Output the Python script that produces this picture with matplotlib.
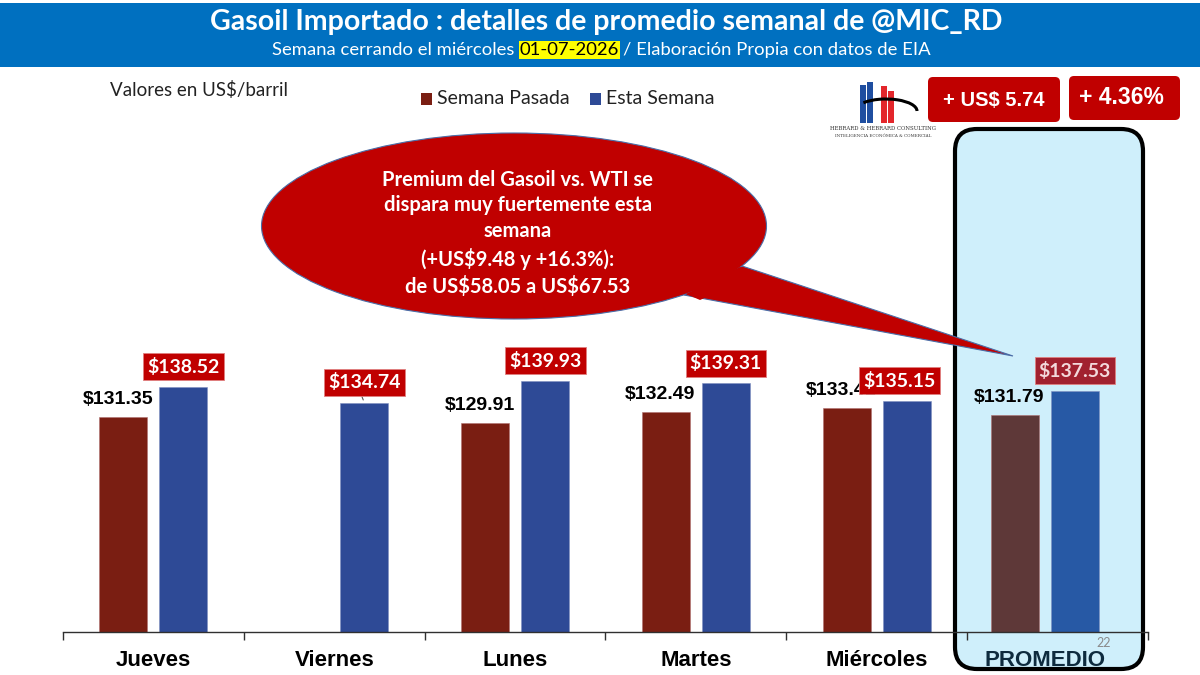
import numpy as np
import matplotlib
matplotlib.use("Agg")
import matplotlib.pyplot as plt
from matplotlib.patches import FancyBboxPatch, Ellipse, Polygon, Rectangle, Arc

# ---------------- data ----------------
categories = ["Jueves", "Viernes", "Lunes", "Martes", "Miércoles", "PROMEDIO"]
semana_pasada = [131.35, np.nan, 129.91, 132.49, 133.41, 131.79]
esta_semana = [138.52, 134.74, 139.93, 139.31, 135.15, 137.53]
label_pasada = ["$131.35", "", "$129.91", "$132.49", "$133.41", "$131.79"]
label_esta = ["$138.52", "$134.74", "$139.93", "$139.31", "$135.15", "$137.53"]
title = "Gasoil Importado : detalles de promedio semanal de @MIC_RD"
sub_a = "Semana cerrando el miércoles"
sub_date = "01-07-2026"
sub_b = "/ Elaboración Propia con datos de EIA"
callout = ["Premium del Gasoil vs. WTI se", "dispara muy fuertemente esta", "semana",
           "(+US$9.48 y +16.3%):", "de US$58.05 a US$67.53"]
delta_abs = "+ US$ 5.74"
delta_pct = "+ 4.36%"

CAL = ["Lato", "DejaVu Sans"]
ARI = ["Liberation Sans", "DejaVu Sans"]
NM = dict(parse_math=False)

fig = plt.figure(figsize=(12, 6.75), dpi=100)
W, H = 1200, 675

def overlay(z):
    a = fig.add_axes([0, 0, 1, 1], zorder=z)
    a.set_xlim(0, W); a.set_ylim(H, 0); a.axis("off")
    a.patch.set_alpha(0)
    return a

back = overlay(0)
# highlight box for PROMEDIO
back.add_patch(FancyBboxPatch((955, 129), 188, 540, boxstyle="round,pad=0,rounding_size=22",
                              fc="#CFEFFB", ec="black", lw=3))

# ---------------- main axes ----------------
ax = fig.add_axes([63 / W, (H - 632) / H, (1148 - 63) / W, (632 - 129) / H], zorder=1)
ax.patch.set_alpha(0)
n = len(categories)
x = np.arange(n).astype(float)
x[-1] -= 0.07  # PROMEDIO group sits slightly left inside its box
off, bw = 0.166, 0.265
red_cols = ["#7A1E12"] * 5 + ["#5E3838"]
blue_cols = ["#2E4A96"] * 5 + ["#2759A5"]
ax.bar(x - off, semana_pasada, bw, color=red_cols, edgecolor="#B07070", linewidth=0.4, zorder=2)
ax.bar(x + off, esta_semana, bw, color=blue_cols, edgecolor="#8090C0", linewidth=0.4, zorder=2)
ax.set_ylim(80, 200)
ax.set_xlim(-0.5, n - 0.5)
for s in ["top", "right", "left"]:
    ax.spines[s].set_visible(False)
ax.spines["bottom"].set_color("#303030")
ax.spines["bottom"].set_linewidth(1.0)
ax.set_yticks([])
ax.set_xticks(x)
ax.set_xticklabels(categories, fontfamily=ARI, fontweight="bold", fontsize=16)
ax.get_xticklabels()[-1].set_color("#0E2B3E")
ax.tick_params(axis="x", which="major", length=0, pad=13)
ax.set_xticks(np.arange(-0.5, n), minor=True)
ax.tick_params(axis="x", which="minor", length=6, color="#303030", width=1, direction="out")

for i in range(n):
    v = semana_pasada[i]
    if not np.isnan(v):
        ax.annotate(label_pasada[i], (x[i] - off, v), xytext=(-4, 12.5), textcoords="offset points",
                    ha="center", va="center", fontfamily=ARI, fontweight="bold", fontsize=14,
                    color="black", zorder=3, **NM)
for i in range(n):
    v = esta_semana[i]
    last = i == n - 1
    dx = -5 if i == 4 else 0
    fc = "#A1212F" if last else "#C00000"
    tc = "#F3D9DC" if last else "white"
    ax.annotate(label_esta[i], (x[i] + off, v), xytext=(dx, 14.5), textcoords="offset points",
                ha="center", va="center", fontfamily=CAL, fontweight="bold", fontsize=14,
                color=tc, zorder=5, **NM,
                bbox=dict(boxstyle="square,pad=0.22", fc=fc, ec="#E08080", lw=0.6))
# leader line for Viernes
ax.annotate("", (x[1] + off, esta_semana[1]), xytext=(x[1] + off - 0.02, esta_semana[1] + 2.2),
            arrowprops=dict(arrowstyle="-", color="#555555", lw=0.8), zorder=4)

# ---------------- front overlay ----------------
fr = overlay(2)
# header
fr.add_patch(Rectangle((0, 3), W, 64, fc="#0070C0", ec="none"))
fr.text(606, 22, title, ha="center", va="center", color="white", fontfamily=CAL,
        fontweight="bold", fontsize=20.5, **NM)
t1 = fr.text(272, 50, sub_a, ha="left", va="center", color="white", fontfamily=CAL, fontsize=13.3, **NM)
t2 = fr.annotate(sub_date, xy=(1, 0), xycoords=t1, xytext=(4, 0), textcoords="offset points",
                 ha="left", va="bottom", color="black", fontfamily=CAL, fontsize=13.3, **NM,
                 bbox=dict(boxstyle="square,pad=0.05", fc="#FFFF00", ec="none"))
fr.annotate(sub_b, xy=(1, 0), xycoords=t2, xytext=(3, 0), textcoords="offset points",
            ha="left", va="bottom", color="white", fontfamily=CAL, fontsize=13.3, **NM)

# units / legend
fr.text(110, 90, "Valores en US$/barril", ha="left", va="center", fontfamily=CAL, fontsize=13.5,
        color="#222222", **NM)
fr.add_patch(Rectangle((421, 93), 11, 12, fc="#7A1E12", ec="none"))
fr.text(437, 99, "Semana Pasada", ha="left", va="center", fontfamily=CAL, fontsize=14, color="#222222")
fr.add_patch(Rectangle((590, 93), 11, 12, fc="#2E4A96", ec="none"))
fr.text(606, 99, "Esta Semana", ha="left", va="center", fontfamily=CAL, fontsize=14, color="#222222")

# logo (simplified)
fr.add_patch(Rectangle((860, 85), 6, 38, fc="#1F4EA0", ec="none"))
fr.add_patch(Rectangle((867, 82), 6, 41, fc="#1F4EA0", ec="none"))
fr.add_patch(Rectangle((881, 86), 6, 37, fc="#E3262B", ec="none"))
fr.add_patch(Rectangle((888, 91), 6, 32, fc="#E3262B", ec="none"))
fr.add_patch(Arc((886, 111), 62, 24, theta1=200, theta2=360, lw=2.2, color="black"))
fr.text(883, 129, "HEBRARD & HEBRARD CONSULTING", ha="center", va="center", fontsize=3.9,
        fontfamily=["DejaVu Serif"], color="#333333")
fr.text(883, 136, "INTELIGENCIA ECONÓMICA & COMERCIAL", ha="center", va="center", fontsize=3.0,
        fontfamily=["DejaVu Serif"], color="#333333")

# delta boxes
fr.add_patch(FancyBboxPatch((928, 77), 132, 45, boxstyle="round,pad=0,rounding_size=5",
                            fc="#C00000", ec="none"))
fr.text(994, 100, delta_abs, ha="center", va="center", color="white", fontfamily=ARI,
        fontweight="bold", fontsize=14.5, **NM)
fr.add_patch(FancyBboxPatch((1069, 76), 111, 44, boxstyle="round,pad=0,rounding_size=5",
                            fc="#C00000", ec="none"))
fr.text(1121, 98, delta_pct, ha="center", va="center", color="white", fontfamily=ARI,
        fontweight="bold", fontsize=16.5, **NM)

# callout
fr.add_patch(Polygon([(684, 295), (742, 266), (1013, 356)], closed=True, fc="#C00000",
                     ec="#4A6EA8", lw=0.8))
fr.add_patch(Ellipse((514, 226), 505, 186, fc="#C00000", ec="#4A6EA8", lw=0.8))
fr.add_patch(Polygon([(686, 294), (740, 267), (760, 274), (700, 300)], closed=True,
                     fc="#C00000", ec="none"))
ys = [180, 205, 231, 259, 286]
for yy, line in zip(ys, callout):
    fr.text(518, yy, line, ha="center", va="center", color="white", fontfamily=CAL,
            fontweight="bold", fontsize=14.5, **NM)

fr.text(1104, 643, "22", ha="center", va="center", color="#8A8A8A", fontfamily=CAL, fontsize=9)

fig.savefig("out.png", dpi=100)
